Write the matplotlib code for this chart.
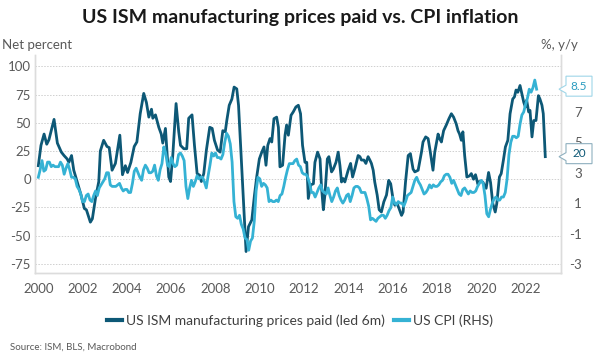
import matplotlib
matplotlib.use("Agg")
import matplotlib.pyplot as plt
from matplotlib.patches import Polygon
import numpy as np

plt.rcParams['font.family'] = ['Lato', 'DejaVu Sans']

# ISM prices paid, net percent, led 6m (turning points)
ism_year = [2000.00, 2000.12, 2000.26, 2000.38, 2000.48, 2000.71, 2000.86, 2001.04, 2001.16, 2001.30,
            2001.38, 2001.50, 2001.60, 2001.75, 2001.93, 2002.08, 2002.17, 2002.35, 2002.44, 2002.58,
            2002.73, 2002.80, 2002.95, 2003.10, 2003.20, 2003.33, 2003.48, 2003.68, 2003.80, 2003.93,
            2004.03, 2004.18, 2004.33, 2004.45, 2004.60, 2004.76, 2004.88, 2004.99, 2005.11, 2005.17,
            2005.29, 2005.44, 2005.55, 2005.62, 2005.74, 2005.82, 2005.89, 2005.97, 2006.07, 2006.22,
            2006.34, 2006.42, 2006.57, 2006.70, 2006.79, 2006.94, 2007.05, 2007.17, 2007.29, 2007.36,
            2007.47, 2007.59, 2007.74, 2007.85, 2007.95, 2008.09, 2008.21, 2008.33, 2008.44, 2008.51,
            2008.62, 2008.74, 2008.84, 2008.96, 2009.04, 2009.14, 2009.26, 2009.38, 2009.49, 2009.64,
            2009.76, 2009.86, 2009.98, 2010.09, 2010.19, 2010.28, 2010.36, 2010.46, 2010.54, 2010.64,
            2010.76, 2010.84, 2010.91, 2011.03, 2011.14, 2011.21, 2011.29, 2011.41, 2011.51, 2011.63,
            2011.74, 2011.84, 2011.93, 2012.04, 2012.12, 2012.19, 2012.30, 2012.42, 2012.49, 2012.61,
            2012.72, 2012.79, 2012.87, 2012.94, 2013.05, 2013.12, 2013.24, 2013.32, 2013.44, 2013.54,
            2013.62, 2013.69, 2013.77, 2013.84, 2013.99, 2014.10, 2014.19, 2014.29, 2014.44, 2014.52,
            2014.59, 2014.70, 2014.79, 2014.89, 2014.97, 2015.04, 2015.12, 2015.19, 2015.30, 2015.39,
            2015.49, 2015.60, 2015.72, 2015.82, 2015.91, 2016.02, 2016.10, 2016.20, 2016.29, 2016.40,
            2016.47, 2016.58, 2016.70, 2016.80, 2016.92, 2017.00, 2017.15, 2017.30, 2017.37, 2017.49,
            2017.60, 2017.70, 2017.82, 2017.90, 2018.05, 2018.12, 2018.20, 2018.30, 2018.42, 2018.54,
            2018.65, 2018.75, 2018.87, 2018.95, 2019.02, 2019.10, 2019.17, 2019.25, 2019.35, 2019.47,
            2019.55, 2019.65, 2019.74, 2019.85, 2019.92, 2020.07, 2020.22, 2020.33, 2020.42, 2020.52,
            2020.63, 2020.70, 2020.82, 2020.90, 2021.00, 2021.09, 2021.20, 2021.30, 2021.42, 2021.50,
            2021.57, 2021.65, 2021.75, 2021.83, 2021.92, 2021.99, 2022.05, 2022.14, 2022.20, 2022.29,
            2022.37, 2022.47, 2022.58, 2022.65, 2022.74, 2022.80, 2022.89]
ism_val = [12, 30, 40, 31, 35, 53, 32, 24, 21, 18,
           15, 21, 8, -2, -14, -26, -27, -38, -35, -17,
           -2, 25, 34.5, 29, 28, 8, 14, 39, 4, 12,
           6, 15, 29, 33, 58, 76, 68, 55, 62, 54,
           57, 46, 40, 32, 45, 21, 2, -2, 21, 67,
           42, 30, 27, 27, 54, 57, 30, 5, 3.5, -2,
           5, 26, 46, 45, 34.5, 26, 24, 43, 42, 52,
           65.5, 71, 81.6, 80, 65.5, 27, -20, -64, -42, -36,
           -14, 2, 18, 24, 28.6, 12.4, 30, 36, 33, 53.6,
           55, 46, 11, 12.4, 39, 48, 39, 56.6, 59.6, 64,
           65.5, 58, 30, 15, 15, -17, -5, -4, 15, 24,
           18, -8, -27, -14, 18, 20, 6.5, 9, 15, 24,
           12, -2.4, 0.6, -2.4, 8, 14, 2, 9, 21, 20,
           17, 17, 14, 20, 17, 14, 8, -2.4, -14, -27,
           -29, -20, -14, -1, -4, -18, -23, -21.5, -26, -32,
           -29, -2.4, 21, 22.7, 9, 6.5, 8, 24, 33, 37.5,
           36, 24, 8, 24, 40, 36, 33, 43, 48, 53.6,
           58, 55, 49, 43, 40, 34.5, 42, 21, 2, 3,
           5, 0, 4, -4.5, -2, -2.5, -8, 6, -3, -21.5,
           -29, -21.5, 2, 5, 17, 28.6, 34.5, 58, 71, 73,
           79, 77, 83, 76, 68, 64, 70, 59.6, 61, 37.5,
           52, 52, 74, 71, 65.5, 58, 20]

# US CPI, % y/y, monthly Jan 2000 - Jul 2022
cpi = [2.7, 3.2, 3.8, 3.1, 3.2, 3.7, 3.7, 3.4, 3.5, 3.4, 3.4, 3.4,
       3.7, 3.5, 2.9, 3.3, 3.6, 3.2, 2.7, 2.7, 2.6, 2.1, 1.9, 1.6,
       1.1, 1.1, 1.5, 1.6, 1.2, 1.1, 1.5, 1.8, 1.5, 2.0, 2.2, 2.4,
       2.6, 3.0, 3.0, 2.2, 2.1, 2.1, 2.1, 2.2, 2.3, 2.0, 1.8, 1.9,
       1.9, 1.7, 1.7, 2.3, 3.1, 3.3, 3.0, 2.7, 2.5, 3.2, 3.5, 3.3,
       3.0, 3.0, 3.1, 3.5, 2.8, 2.5, 3.2, 3.6, 4.7, 4.3, 3.5, 3.4,
       4.0, 3.6, 3.4, 3.5, 4.2, 4.3, 4.1, 3.8, 2.1, 1.3, 2.0, 2.5,
       2.1, 2.4, 2.8, 2.6, 2.7, 2.7, 2.4, 2.0, 2.8, 3.5, 4.3, 4.1,
       4.3, 4.0, 4.0, 3.9, 4.2, 5.0, 5.6, 5.4, 4.9, 3.7, 1.1, 0.1,
       0.0, 0.2, -0.4, -0.7, -1.3, -1.4, -2.1, -1.5, -1.3, -0.2, 1.8, 2.7,
       2.6, 2.1, 2.3, 2.2, 2.0, 1.1, 1.2, 1.1, 1.1, 1.2, 1.1, 1.5,
       1.6, 2.1, 2.7, 3.2, 3.6, 3.6, 3.6, 3.8, 3.9, 3.5, 3.4, 3.0,
       2.9, 2.9, 2.7, 2.3, 1.7, 1.7, 1.4, 1.7, 2.0, 2.2, 1.8, 1.7,
       1.6, 2.0, 1.5, 1.1, 1.4, 1.8, 2.0, 1.5, 1.2, 1.0, 1.2, 1.5,
       1.6, 1.1, 1.5, 2.0, 2.1, 2.1, 2.0, 1.7, 1.7, 1.7, 1.3, 0.8,
       -0.1, 0.0, -0.1, -0.2, 0.0, 0.1, 0.2, 0.2, 0.0, 0.2, 0.5, 0.7,
       1.4, 1.0, 0.9, 1.1, 1.0, 1.0, 0.8, 1.1, 1.5, 1.6, 1.7, 2.1,
       2.5, 2.7, 2.4, 2.2, 1.9, 1.6, 1.7, 1.9, 2.2, 2.0, 2.2, 2.1,
       2.1, 2.2, 2.4, 2.5, 2.8, 2.9, 2.9, 2.7, 2.3, 2.5, 2.2, 1.9,
       1.6, 1.5, 1.9, 2.0, 1.8, 1.6, 1.8, 1.7, 1.7, 1.8, 2.1, 2.3,
       2.5, 2.3, 1.5, 0.3, 0.1, 0.6, 1.0, 1.3, 1.4, 1.2, 1.2, 1.4,
       1.4, 1.7, 2.6, 4.2, 5.0, 5.4, 5.4, 5.3, 5.4, 6.2, 6.8, 7.0,
       7.5, 7.9, 8.5, 8.3, 8.6, 9.1, 8.5]
cpi_year = 2000 + np.arange(len(cpi)) / 12

years = list(range(2000, 2023, 2))
left_ticks = [100, 75, 50, 25, 0, -25, -50, -75]
right_ticks = [-3, -1, 1, 3, 5, 7]

dark = '#0d5876'
light = '#35b2d4'
grey = '#595959'

W, H = 600, 353
fig = plt.figure(figsize=(6, 3.53), dpi=100)
ax = fig.add_axes([35 / W, 1 - 273 / H, (561 - 35) / W, (273 - 55) / H])
ax2 = ax.twinx()

ax.plot(ism_year, ism_val, color=dark, lw=2.0, solid_joinstyle='round',
        label='US ISM manufacturing prices paid (led 6m)')
ax2.plot(cpi_year, cpi, color=light, lw=2.0, solid_joinstyle='round', label='US CPI (RHS)')

ax.set_xlim(1999.85, 2023.6)
ax.set_ylim(-83, 110)
ax2.set_ylim(-3.6, 10.75)

ax.set_yticks(left_ticks)
ax.set_yticklabels([str(t) for t in left_ticks])
ax2.set_yticks(right_ticks)
ax2.set_yticklabels([str(t) for t in right_ticks], ha='right')
ax.set_xticks(years)
ax.set_xticklabels([str(y) for y in years])

ax.grid(axis='y', color='#cfcfcf', lw=0.7, ls=(0, (1.5, 1.5)))
ax.tick_params(axis='both', length=0, labelsize=9.5, colors=grey)
ax.tick_params(axis='y', pad=3)
ax.tick_params(axis='x', pad=7)
ax2.tick_params(axis='y', length=0, labelsize=9.5, colors=grey, pad=15)

for a in (ax, ax2):
    a.spines['top'].set_visible(False)
    for s in ('left', 'right', 'bottom'):
        a.spines[s].set_color('#dcdcdc')
        a.spines[s].set_linewidth(1.0)

fig.text(0.5, 1 - 18 / H, 'US ISM manufacturing prices paid vs. CPI inflation',
         ha='center', va='center', fontsize=14, fontweight='bold', color='#1a1a1a')
fig.text(2 / W, 1 - 45 / H, 'Net percent', ha='left', va='center', fontsize=9.5, color=grey)
fig.text(578 / W, 1 - 45 / H, '%, y/y', ha='right', va='center', fontsize=9.5, color=grey)
fig.text(10 / W, 1 - 347 / H, 'Source: ISM, BLS, Macrobond', ha='left', va='center',
         fontsize=7, color=grey)

h1, l1 = ax.get_legend_handles_labels()
h2, l2 = ax2.get_legend_handles_labels()
leg = fig.legend(h1 + h2, l1 + l2, loc='center', bbox_to_anchor=(0.5, 1 - 321 / H), ncol=2,
                 frameon=False, fontsize=10, handlelength=1.1, handletextpad=0.3,
                 columnspacing=0.6)
for t in leg.get_texts():
    t.set_color('#404040')
for l in leg.get_lines():
    l.set_linewidth(3)


def callout(axis, xv, yv, text, color, edge):
    xt, yt = axis.transData.transform((xv, yv))
    xt = ax.transAxes.transform((1, 0))[0] - 2
    xl, xr = xt + 7, xt + 33
    pts = [(xt, yt), (xl, yt + 4), (xl, yt + 13), (xr, yt + 13), (xr, yt - 7), (xl, yt - 7),
           (xl, yt - 4)]
    fig.patches.append(Polygon(pts, closed=True, transform=None, facecolor='white',
                               edgecolor=edge, lw=0.8, zorder=5, figure=fig))
    fig.text((xl + xr) / 2 / W, (yt + 3) / H, text, ha='center', va='center', fontsize=8.5,
             color=color, zorder=6)


callout(ax2, cpi_year[-1], cpi[-1], '8.5', '#2a9cc0', '#9fd6e8')
callout(ax, ism_year[-1], ism_val[-1], '20', dark, '#8fb0bf')

fig.savefig('out.png', dpi=100)
